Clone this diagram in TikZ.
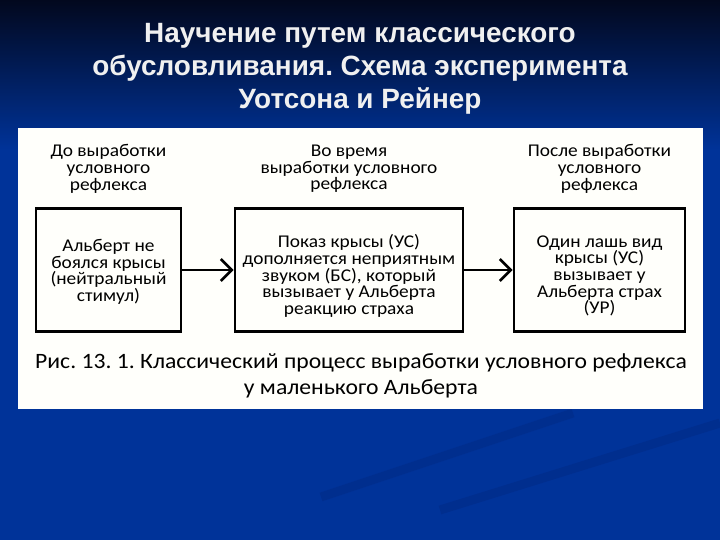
\documentclass[tikz,border=0pt]{standalone}
\usepackage{fontspec}
\setmainfont{Carlito}
\newfontfamily\titlefont{Liberation Sans}
\usetikzlibrary{arrows.meta, positioning}
\definecolor{SlideBlue}{RGB}{0, 51, 153}
\definecolor{SlideTop}{RGB}{2, 8, 30}
\definecolor{SlideStreak}{RGB}{0, 40, 130}
\definecolor{PanelWhite}{RGB}{255, 255, 251}
\frenchspacing
\tikzset{
  stagebox/.style={draw=black, line width=2.8bp, fill=PanelWhite, inner sep=0pt,
    minimum height=123bp},
  stagetext/.style={align=center, inner sep=0pt,
    font=\fontsize{18}{16.7}\selectfont\addfontfeature{FakeStretch=1.08}},
}
\begin{document}
\begin{tikzpicture}[x=1bp, y=-1bp, >={Straight Barb[length=11bp, width=22bp]}]
        \useasboundingbox (0,0) rectangle (720,540);
        % slide background
        \fill[SlideBlue] (0,0) rectangle (720,540);
        \shade[top color=SlideTop, bottom color=SlideBlue] (0,0) rectangle (720,150);
        % faint streaks
        \draw[SlideStreak, line width=9bp, opacity=0.45] (321,497) -- (573,413);
        \draw[SlideStreak, line width=9bp, opacity=0.45] (440,510) -- (720,423);
        % title
        \node[text=white!94!black, align=center, font=\titlefont\bfseries\fontsize{28}{33}\selectfont] (title) at (360,69)
            {Научение путем классического\\обусловливания. Схема эксперимента\\Уотсона и Рейнер};
        % white panel
        \fill[PanelWhite] (18,128) rectangle (703,409);
        % stage boxes
        \node[stagebox, minimum width=145bp] (before) at (108.5,270) {};
        \node[stagebox, minimum width=228bp] (during) at (349,270) {};
        \node[stagebox, minimum width=171bp] (after) at (599.5,270) {};
        \node[stagetext] (beforetext) at ([yshift=-2bp]before.center)
            {Альберт не\\боялся крысы\\(нейтральный\\стимул)};
        \node[stagetext] (duringtext) at ([yshift=-6bp]during.center)
            {Показ крысы (УС)\\дополняется неприятным\\звуком (БС), который\\вызывает у Альберта\\реакцию страха};
        \node[stagetext] (aftertext) at ([yshift=-6bp]after.center)
            {Один лашь вид\\крысы (УС)\\вызывает у\\Альберта страх\\(УР)};
        % stage headings
        \node[stagetext] (beforehead) at (108.5,169) {До выработки\\условного\\рефлекса};
        \node[stagetext] (duringhead) at (349,169) {Во время\\выработки условного\\рефлекса};
        \node[stagetext] (afterhead) at (599.5,169) {После выработки\\условного\\рефлекса};
        % arrows
        \draw[->, line width=2.6bp] (before.east) -- (during.west);
        \draw[->, line width=2.6bp] (during.east) -- (after.west);
        % caption
        \node[align=center, font=\fontsize{22}{26}\selectfont\addfontfeature{FakeStretch=1.08}] (caption) at (361,376)
            {Рис. 13. 1. Классический процесс выработки условного рефлекса\\у маленького Альберта};
    \end{tikzpicture}
\end{document}
